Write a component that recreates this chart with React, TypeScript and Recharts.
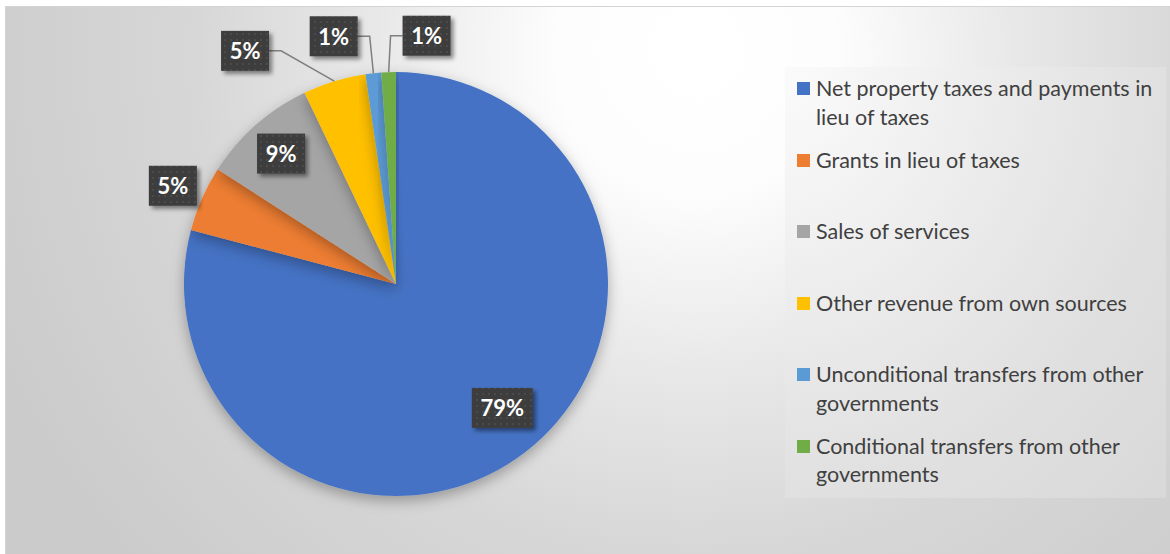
import { PieChart, Pie, Cell, Legend } from "recharts"

const categories = [
  "Net property taxes and payments in lieu of taxes",
  "Grants in lieu of taxes",
  "Sales of services",
  "Other revenue from own sources",
  "Unconditional transfers from other governments",
  "Conditional transfers from other governments"
]

const shares = [79.1, 5.0, 8.8, 4.8, 1.2, 1.1]

const colors = ["#4472C4", "#ED7D31", "#A5A5A5", "#FFC000", "#5B9BD5", "#70AD47"]

// where each data label box sits: radius as a multiple of the outer radius,
// angle shift from the slice middle (degrees, counter-clockwise), and whether it gets a leader line
const labelPlacement = [
  { r: 0.77, shift: 3, leader: false },
  { r: 1.15, shift: 0, leader: false },
  { r: 0.82, shift: 0, leader: false },
  { r: 1.31, shift: 16, leader: true },
  { r: 1.205, shift: 8, leader: true },
  { r: 1.18, shift: -9, leader: true }
]

const data = categories.map((name, i) => ({ name, value: shares[i] }))

const RAD = Math.PI / 180

function renderLabel(props: any) {
  const { cx, cy, midAngle, outerRadius, percent, index } = props
  const place = labelPlacement[index]
  const a = (midAngle + place.shift) * RAD
  const lx = cx + outerRadius * place.r * Math.cos(a)
  const ly = cy - outerRadius * place.r * Math.sin(a)
  const text = `${Math.round(percent * 100)}%`
  const w = 22 + 13 * text.length
  const h = 40

  let leader = null
  if (place.leader) {
    const ax = cx + outerRadius * Math.cos(midAngle * RAD)
    const ay = cy - outerRadius * Math.sin(midAngle * RAD)
    const dir = ax > lx ? 1 : -1
    const sx = lx + dir * w / 2
    const path = `M${sx},${ly} L${sx + dir * 12},${ly} L${ax},${ay}`
    leader = <path d={path} fill="none" stroke="#7f7f7f" strokeWidth={1.5} />
  }

  return (
    <g key={`lbl-${index}`}>
      {leader}
      <rect
        x={lx - w / 2}
        y={ly - h / 2}
        width={w}
        height={h}
        fill="url(#labelDots)"
        filter="url(#boxShadow)"
      />
      <text
        x={lx}
        y={ly}
        textAnchor="middle"
        dominantBaseline="central"
        fill="#ffffff"
        fontFamily="Lato, 'Open Sans', sans-serif"
        fontWeight={700}
        fontSize={22}
      >
        {text}
      </text>
    </g>
  )
}

function LegendBox() {
  return (
    <div
      style={{
        width: 381,
        height: 431,
        boxSizing: "border-box",
        background: "radial-gradient(ellipse at 0% 0%, rgba(250,250,250,0.85) 0%, rgba(225,225,225,0.85) 70%, rgba(218,218,218,0.85) 100%)",
        paddingLeft: 12,
        paddingTop: 7,
        fontFamily: "Lato, 'Open Sans', sans-serif",
        fontSize: 21.5,
        color: "#404040"
      }}
    >
      {categories.map((name, i) => (
        <div
          key={name}
          style={{ display: "flex", alignItems: "flex-start", height: 71.6 }}
        >
          <div
            style={{
              width: 13,
              height: 13,
              background: colors[i],
              marginTop: 8,
              marginRight: 6,
              flexShrink: 0
            }}
          />
          <div style={{ width: 348, lineHeight: "28.5px" }}>{name}</div>
        </div>
      ))}
    </div>
  )
}

export default function App() {
  return (
    <>
      <style>{`body{margin:0} .recharts-pie-sector{filter:url(#pieShadow)}`}</style>
      <svg width={0} height={0} style={{ position: "absolute" }}>
        <defs>
          <pattern id="labelDots" width={6} height={6} patternUnits="userSpaceOnUse">
            <rect width={6} height={6} fill="#3d3d3d" />
            <rect x={2} y={2} width={2} height={2} fill="#4b4b4b" />
          </pattern>
          <filter id="boxShadow" x="-30%" y="-30%" width="160%" height="160%">
            <feDropShadow dx={3} dy={3} stdDeviation={2} floodColor="#000" floodOpacity={0.45} />
          </filter>
          <filter id="pieShadow" x="-20%" y="-20%" width="140%" height="140%">
            <feDropShadow dx={0} dy={5} stdDeviation={7} floodColor="#000" floodOpacity={0.3} />
          </filter>
        </defs>
      </svg>
      <div
        style={{
          marginLeft: 5,
          marginTop: 6,
          width: 1165,
          height: 548,
          borderTop: "1px solid #d4d4d4",
          borderLeft: "1px solid #d4d4d4",
          background: "radial-gradient(circle at 690px 45px, #ffffff 0px, #fdfdfd 140px, #e8e8e8 320px, #d7d7d7 500px, #cbcbcb 760px)"
        }}
      >
        <PieChart width={1165} height={548}>
          <Pie
            data={data}
            dataKey="value"
            nameKey="name"
            cx={385}
            cy={272}
            outerRadius={212}
            startAngle={90}
            endAngle={-270}
            stroke="none"
            label={renderLabel}
            labelLine={false}
            isAnimationActive={false}
          >
            {data.map((d, i) => (
              <Cell key={d.name} fill={colors[i]} />
            ))}
          </Pie>
          <Legend
            content={() => <LegendBox />}
            wrapperStyle={{ left: 779, top: 60, width: 381, height: 431 }}
          />
        </PieChart>
      </div>
    </>
  )
}
